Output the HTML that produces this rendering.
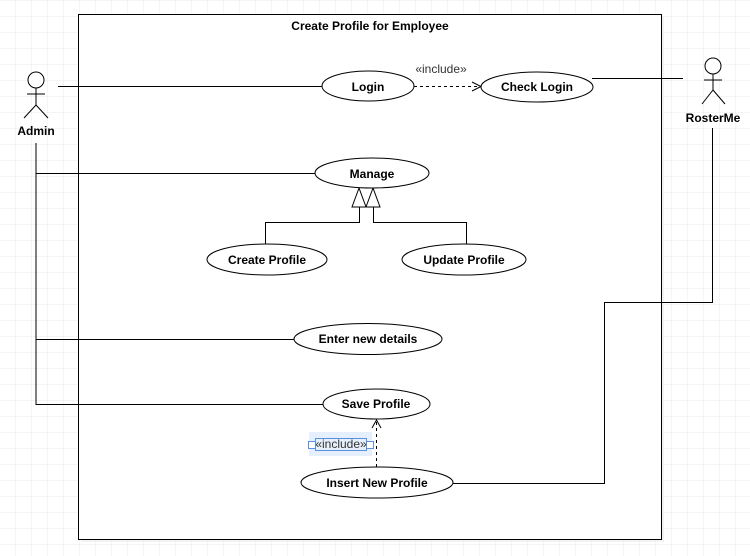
<!DOCTYPE html>
<html><head><meta charset="utf-8"><style>
html,body{margin:0;padding:0;background:#fff}
svg{display:block}
text{font-family:"Liberation Sans",Arial,sans-serif;font-size:12px;fill:#000}
.b{font-weight:bold}
</style></head><body>
<svg width="750" height="556" viewBox="0 0 750 556" xmlns="http://www.w3.org/2000/svg">
<defs>
<pattern id="g" width="16" height="16" patternUnits="userSpaceOnUse" x="0" y="1">
<path d="M16 0V16M0 16H16" fill="none" stroke="#ebebeb" stroke-width="1"/>
</pattern>
</defs>
<rect width="750" height="556" fill="url(#g)"/>
<rect x="81" y="17" width="583" height="525" fill="#e8e8e8" opacity="0.5"/>
<rect x="78.5" y="14.5" width="583" height="525" fill="#fff" stroke="#000" stroke-width="1"/>
<text x="370" y="30" text-anchor="middle" class="b">Create Profile for Employee</text>

<g fill="none" stroke="#000" stroke-width="1">
<!-- Admin actor -->
<circle cx="36" cy="80" r="8" fill="#fff"/>
<path d="M36 88V105M27 94H45M36 105L24 118M36 105L48 118"/>
<!-- RosterMe actor -->
<circle cx="713" cy="66" r="8" fill="#fff"/>
<path d="M713 74V90M704 80H722M713 90L702 104M713 90L725 104"/>
<!-- admin lines -->
<path d="M58 86.5H323"/>
<path d="M36 143V404.5H323M36 173.5H316M36 339.5H294"/>
<!-- check login to rosterme -->
<path d="M592 78.5H683"/>
<path d="M712.5 128V302.5H604.5V483.5H453"/>
<!-- generalization -->
<path d="M265.5 244V222.5H359.5V207"/>
<path d="M466.5 244V222.5H373.5V207"/>
<path d="M359 188L352 207H366Z M373 188L366 207H380Z" fill="#fff"/>
<!-- include login -->
<path d="M414 86.5H480" stroke-dasharray="3,3"/>
<path d="M472 82L481 86.5L472 91"/>
<!-- include save -->
<path d="M376.5 467V421" stroke-dasharray="3,3"/>
<path d="M372 428L376.5 420L381 428"/>
</g>

<g fill="#fff" stroke="#000" stroke-width="1">
<ellipse cx="368" cy="86" rx="46" ry="15"/>
<ellipse cx="537" cy="87" rx="56" ry="15"/>
<ellipse cx="372" cy="173" rx="57" ry="15"/>
<ellipse cx="267" cy="259.5" rx="60" ry="15.5"/>
<ellipse cx="464" cy="259.5" rx="62" ry="15.5"/>
<ellipse cx="368" cy="339" rx="74" ry="15.5"/>
<ellipse cx="376.5" cy="404" rx="53.5" ry="15"/>
<ellipse cx="377" cy="482.5" rx="76" ry="15.5"/>
</g>

<text x="368" y="91" text-anchor="middle" class="b">Login</text>
<text x="537" y="91" text-anchor="middle" class="b">Check Login</text>
<text x="372" y="178" text-anchor="middle" class="b">Manage</text>
<text x="267" y="264" text-anchor="middle" class="b">Create Profile</text>
<text x="464" y="264" text-anchor="middle" class="b">Update Profile</text>
<text x="368" y="343" text-anchor="middle" class="b">Enter new details</text>
<text x="376" y="408" text-anchor="middle" class="b">Save Profile</text>
<text x="377" y="487" text-anchor="middle" class="b">Insert New Profile</text>
<text x="36" y="135" text-anchor="middle" class="b">Admin</text>
<text x="713" y="122" text-anchor="middle" class="b">RosterMe</text>
<text x="441" y="73" text-anchor="middle" fill="#333" style="fill:#333">«include»</text>

<!-- selected include label -->
<rect x="309" y="432" width="63" height="24" fill="#e6f0fc"/>
<rect x="315.5" y="438.5" width="51" height="12" fill="none" stroke="#5b8fe0"/>
<rect x="308.5" y="441.5" width="7" height="7" fill="#fff" stroke="#5b8fe0"/>
<rect x="366.5" y="441.5" width="7" height="7" fill="#fff" stroke="#5b8fe0"/>
<text x="341" y="448" text-anchor="middle" style="fill:#333">«include»</text>
</svg>
</body></html>
